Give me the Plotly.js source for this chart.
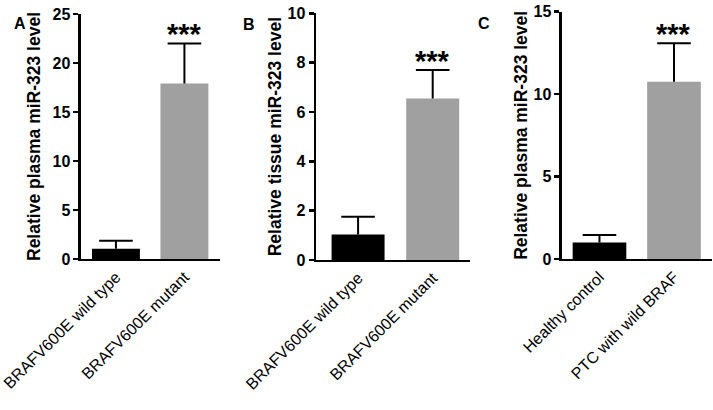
<!DOCTYPE html>
<html>
<head>
<meta charset="utf-8">
<script src="https://cdn.plot.ly/plotly-3.0.1.min.js"></script>
<style>html,body{margin:0;padding:0;background:#fff}#chart{width:713px;height:410px}</style>
</head>
<body>
<div id="chart"></div>
<script>
// Panel A
const catsA = ["BRAFV600E wild type", "BRAFV600E mutant"];
const meanA = [1.05, 17.9];
const errA = [0.8, 4.1];
// Panel B
const catsB = ["BRAFV600E wild type", "BRAFV600E mutant"];
const meanB = [1.03, 6.55];
const errB = [0.72, 1.15];
// Panel C
const catsC = ["Healthy control", "PTC with wild BRAF"];
const meanC = [1.0, 10.75];
const errC = [0.46, 2.33];

const barColors = ["#000000", "#a0a0a0"];
const FONT = "Liberation Sans, Arial, sans-serif";

function barTrace(cats, mean, err, xa, ya, w) {
  return {
    type: "bar", x: cats, y: mean, xaxis: xa, yaxis: ya, width: w,
    marker: {color: barColors, line: {width: 0}},
    error_y: {type: "data", array: err, arrayminus: [0, 0], symmetric: false,
              color: "#000", thickness: 2, width: 0},
    showlegend: false, hoverinfo: "none"
  };
}
// cap at the top of each upward error bar
function capTrace(cats, mean, err, xa, ya) {
  return {
    type: "scatter", mode: "markers", x: cats, y: mean.map((m, i) => m + err[i]),
    xaxis: xa, yaxis: ya, cliponaxis: false,
    marker: {symbol: "line-ew", size: 24, color: "#000", line: {width: 2, color: "#000"}},
    showlegend: false, hoverinfo: "none"
  };
}

const data = [
  barTrace(catsA, meanA, errA, "x", "y", 0.70),
  barTrace(catsB, meanB, errB, "x2", "y2", 0.71),
  barTrace(catsC, meanC, errC, "x3", "y3", 0.72),
  capTrace(catsA, meanA, errA, "x", "y"),
  capTrace(catsB, meanB, errB, "x2", "y2"),
  capTrace(catsC, meanC, errC, "x3", "y3")
];

function xax(domain, range) {
  return {type: "category", domain: domain, range: range, showline: true, linecolor: "#000", linewidth: 2.5,
          ticks: "", showgrid: false, zeroline: false, tickangle: -45, automargin: false,
          tickfont: {family: FONT, size: 16, color: "#000"}, fixedrange: true};
}
function yax(domain, range, dtick, title, standoff) {
  return {domain: domain, range: range, dtick: dtick, showline: true, linecolor: "#000", linewidth: 2.5,
          ticks: "outside", ticklen: 5, tickwidth: 2.5, tickcolor: "#000",
          showgrid: false, zeroline: false, automargin: false,
          tickfont: {family: FONT, size: 16, color: "#000", weight: "bold"},
          title: {text: title, font: {family: FONT, size: 17.5, color: "#000", weight: "bold"}, standoff: standoff},
          fixedrange: true};
}

const starFont = {family: FONT, size: 29, color: "#000", weight: "bold"};
const layout = {
  width: 713, height: 410,
  margin: {l: 0, r: 0, t: 0, b: 0},
  paper_bgcolor: "#fff", plot_bgcolor: "#fff",
  xaxis: xax([0.1136, 0.3086], [-0.51, 1.52]),
  xaxis2: xax([0.4432, 0.6592], [-0.564, 1.50]),
  xaxis3: xax([0.7882, 0.9986], [-0.503, 1.51]),
  yaxis: Object.assign(yax([0.3683, 0.9659], [0, 25], 5, "Relative plasma miR-323 level", 8), {anchor: "x"}),
  yaxis2: Object.assign(yax([0.3659, 0.9676], [0, 10], 2, "Relative tissue miR-323 level", 2), {anchor: "x2"}),
  yaxis3: Object.assign(yax([0.3683, 0.9715], [0, 15], 5, "Relative plasma miR-323 level", 2), {anchor: "x3"}),
  annotations: [
    {text: "***", x: 1, y: meanA[1] + errA[1], xref: "x", yref: "y", yanchor: "bottom", showarrow: false, yshift: -9, font: starFont},
    {text: "***", x: 1, y: meanB[1] + errB[1], xref: "x2", yref: "y2", yanchor: "bottom", showarrow: false, yshift: -9, font: starFont},
    {text: "***", x: 1, y: meanC[1] + errC[1], xref: "x3", yref: "y3", yanchor: "bottom", showarrow: false, yshift: -9, font: starFont},
    {text: "A", x: 12 / 713, y: 1 - 13 / 410, xref: "paper", yref: "paper", showarrow: false,
     font: {family: FONT, size: 16, color: "#000", weight: "bold"}},
    {text: "B", x: 249 / 713, y: 1 - 14 / 410, xref: "paper", yref: "paper", showarrow: false,
     font: {family: FONT, size: 16, color: "#000", weight: "bold"}},
    {text: "C", x: 492 / 713, y: 1 - 13 / 410, xref: "paper", yref: "paper", showarrow: false,
     font: {family: FONT, size: 16, color: "#000", weight: "bold"}}
  ]
};
layout.xaxis.anchor = "y"; layout.xaxis2.anchor = "y2"; layout.xaxis3.anchor = "y3";

Plotly.newPlot("chart", data, layout, {staticPlot: true, displayModeBar: false});
</script>
</body>
</html>
